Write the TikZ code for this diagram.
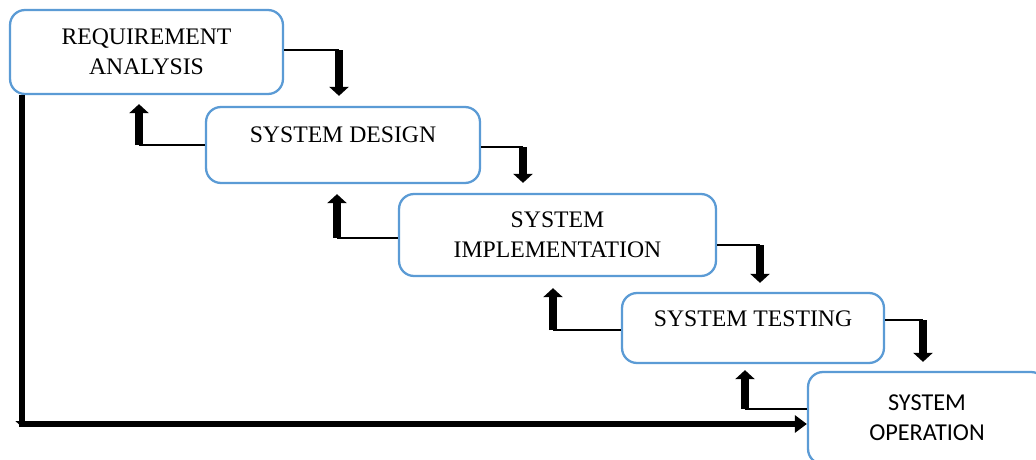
\documentclass[tikz,border=0pt]{standalone}
\usepackage{fontspec}
\setmainfont{Liberation Serif}
\newfontfamily\opfont{Carlito}
\usepackage{tikz}
\usetikzlibrary{arrows.meta,positioning}
\definecolor{boxblue}{HTML}{5B9BD5}
\tikzset{
  stage/.style={draw=boxblue,fill=white,line width=1.3pt,rounded corners=0.3cm,
                align=center,inner sep=2pt,font=\fontsize{13.5}{17}\selectfont},
  tie/.style={line width=0.9pt,draw=black},
  drop/.style={-{Triangle[length=0.18cm,width=0.38cm]},line width=0.16cm,draw=black},
  rail/.style={-{Triangle[length=0.24cm,width=0.34cm]},line width=0.13cm,draw=black}
}

\begin{document}
\begin{tikzpicture}[x=0.02cm,y=-0.02cm]
    \path[use as bounding box] (0,0) rectangle (1036,460);
    % the five stages
    \node[stage,minimum width=5.46cm,minimum height=1.68cm] (req) at (146.5,52)
      {REQUIREMENT\\ANALYSIS};
    \node[stage,minimum width=5.48cm,minimum height=1.52cm,
          text height=0.3cm,text depth=0.4cm] (design) at (343,145)
      {SYSTEM DESIGN};
    \node[stage,minimum width=6.34cm,minimum height=1.64cm] (impl) at (557.5,235)
      {SYSTEM\\IMPLEMENTATION};
    \node[stage,minimum width=5.24cm,minimum height=1.4cm,
          text height=0.3cm,text depth=0.36cm] (test) at (753,328)
      {SYSTEM TESTING};
    \node[stage,minimum width=4.76cm,minimum height=1.84cm,
          font=\opfont\fontsize{13.8}{17}\selectfont] (oper) at (927,418)
      {SYSTEM\\OPERATION};
    % steps going down
    \coordinate (k1) at (339,50);
    \coordinate (k2) at (523,147);
    \coordinate (k3) at (760,245);
    \coordinate (k4) at (923,320);
    \draw[tie] (req.east |- k1) -- (k1);
    \draw[drop] (k1) -- ([yshift=0.2cm]k1 |- design.north);
    \draw[tie] (design.east |- k2) -- (k2);
    \draw[drop] (k2) -- ([yshift=0.2cm]k2 |- impl.north);
    \draw[tie] (impl.east |- k3) -- (k3);
    \draw[drop] (k3) -- ([yshift=0.18cm]k3 |- test.north);
    \draw[tie] (test.east |- k4) -- (k4);
    \draw[drop] (k4) -- ([yshift=0.18cm]k4 |- oper.north);
    % steps going back up
    \coordinate (b1) at (139,145);
    \coordinate (b2) at (337,238);
    \coordinate (b3) at (553,330);
    \coordinate (b4) at (745,409);
    \draw[tie] (design.west |- b1) -- (b1);
    \draw[drop] (b1) -- ([yshift=-0.18cm]b1 |- req.south);
    \draw[tie] (impl.west |- b2) -- (b2);
    \draw[drop] (b2) -- ([yshift=-0.2cm]b2 |- design.south);
    \draw[tie] (test.west |- b3) -- (b3);
    \draw[drop] (b3) -- ([yshift=-0.22cm]b3 |- impl.south);
    \draw[tie] (oper.west |- b4) -- (b4);
    \draw[drop] (b4) -- ([yshift=-0.12cm]b4 |- test.south);
    % long way round
    \coordinate (corner) at (22,424);
    \draw[-{Triangle[length=0.12cm,width=0.26cm]},line width=0.13cm]
      (corner |- req.south) -- ([yshift=-0.06cm]corner);
    \draw[rail] ([xshift=-0.06cm]corner) -- (oper.west |- corner);
\end{tikzpicture}
\end{document}
